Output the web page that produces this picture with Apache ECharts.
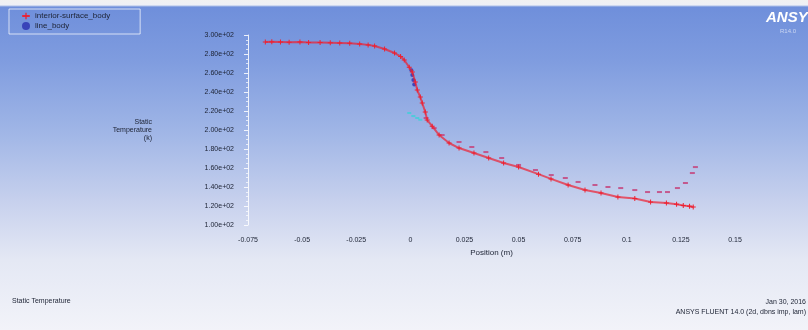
<!DOCTYPE html>
<html>
<head>
<meta charset="utf-8">
<script src="https://cdn.jsdelivr.net/npm/echarts@6/dist/echarts.min.js"></script>
<style>
html,body{margin:0;padding:0;}
#chart{
	width:808px;height:330px;
	background:linear-gradient(to bottom,#f1f1f1 0px,#eef0f6 5px,#6f8fdb 7px,#7f9cdf 60px,#9fb5e6 130px,#c6d0ed 200px,#e4e8f4 260px,#f2f3f9 330px);
}
</style>
</head>
<body>
<div id="chart"></div>
<script>
// tick values
var xTicks = [-0.075, -0.05, -0.025, 0, 0.025, 0.05, 0.075, 0.1, 0.125, 0.15];
var yTicks = [100, 120, 140, 160, 180, 200, 220, 240, 260, 280, 300];

// main (lower) branch, red markers  [position (m), temperature (k)]
var mainX = [-0.067,-0.064,-0.060,-0.056,-0.051,-0.047,-0.0417,-0.037,-0.0326,-0.028,-0.0234,-0.0195,-0.0165,-0.0119,-0.0073,-0.0045,-0.0028,-0.0005,0.0009,0.0023,0.0032,0.0046,0.0055,0.0069,0.0078,0.0101,0.0133,0.0179,0.0225,0.0294,0.0362,0.0431,0.050,0.0592,0.0650,0.0729,0.0807,0.0881,0.0959,0.1037,0.111,0.1183,0.1230,0.1261,0.1290,0.1307];
var mainT = [292.6,292.8,292.6,292.4,292.6,292.2,292.1,291.9,291.6,291.2,290.5,289.6,288.4,285.3,281,277.5,273.7,266,261,250.5,242,234.7,228.4,219,210.5,204,194.7,186.3,181,175.8,170.5,165.3,161,153.5,148.5,142.1,136.8,133.7,129.5,127.8,124.2,123.2,121.8,120.6,119.8,119];

// upper branch, pink dashes
var upperX = [0.0073,0.011,0.0147,0.0225,0.0284,0.0349,0.0422,0.050,0.0578,0.0651,0.0716,0.0775,0.0853,0.0913,0.0972,0.1037,0.1096,0.1151,0.1188,0.1234,0.1271,0.1303,0.1317];
var upperT = [212.6,202,194.7,187.4,182.1,176.8,170.5,163.2,157.9,152.6,149.5,145.3,142.1,140,138.9,136.8,134.7,134.7,134.7,138.9,144.2,154.7,161];

// small cyan and blue groups near x = 0
var cyanX = [-0.0005,0.0014,0.0032,0.0046];
var cyanT = [217.9,214.7,212.6,210.8];
var blueX = [0.0005,0.0009,0.0014,0.0018];
var blueT = [263,258,252.6,248];

function zip(a,b){
	var out=[];
	for(var i=0;i<a.length;i++){out.push([a[i],b[i]]);}
	return out;
}
function sci(v){
	var e=Math.floor(Math.log10(v));
	var m=(v/Math.pow(10,e)).toFixed(2);
	var es=(e<0?'-':'+')+(Math.abs(e)<10?'0':'')+Math.abs(e);
	return m+'e'+es;
}

var plus='path://M4,0h2v4h4v2h-4v4h-2v-4h-4v-2h4z';
var font='"Liberation Sans", Arial, sans-serif';
var txt='#1c2233';

var myChart = echarts.init(document.getElementById('chart'));
var option = {
	backgroundColor:'transparent',
	animation:false,
	textStyle:{fontFamily:font},
	grid:{left:248,right:73,top:35,bottom:105},
	legend:{
		left:9,top:9,orient:'vertical',
		data:['interior-surface_body','line_body'],
		itemWidth:8,itemHeight:8,itemGap:2,
		padding:[3,30,4,12],
		borderColor:'rgba(255,255,255,0.7)',borderWidth:1,
		textStyle:{color:txt,fontSize:8,fontFamily:font}
	},
	xAxis:{
		type:'value',
		min:xTicks[0],max:xTicks[xTicks.length-1],interval:0.025,
		name:'Position (m)',nameLocation:'middle',nameGap:21,
		nameTextStyle:{color:txt,fontSize:8},
		axisLine:{show:false,onZero:false},
		axisTick:{show:false},
		splitLine:{show:false},
		axisLabel:{color:txt,fontSize:7,margin:12,formatter:function(v){return String(parseFloat(v.toFixed(3)));}}
	},
	yAxis:{
		type:'value',
		min:yTicks[0],max:yTicks[yTicks.length-1],interval:20,
		name:'Static\nTemperature\n(k)',nameLocation:'middle',nameGap:96,nameRotate:0,
		nameTextStyle:{color:txt,fontSize:7,align:'right',lineHeight:8},
		axisLine:{show:true,onZero:false,lineStyle:{color:'rgba(255,255,255,0.85)',width:1}},
		axisTick:{show:true,length:4,lineStyle:{color:'rgba(255,255,255,0.85)'}},
		minorTick:{show:true,splitNumber:4,length:2,lineStyle:{color:'rgba(255,255,255,0.7)'}},
		splitLine:{show:false},
		axisLabel:{color:txt,fontSize:7,margin:14,formatter:function(v){return sci(v);}}
	},
	series:[
		{
			name:'upper',type:'scatter',data:zip(upperX,upperT),
			symbol:'rect',symbolSize:[5,2],
			itemStyle:{color:'#c4457e',opacity:0.85}
		},
		{
			name:'interior-surface_body',type:'line',data:zip(mainX,mainT),
			symbol:plus,symbolSize:5,showSymbol:true,
			lineStyle:{color:'#ee2030',width:2,opacity:0.7},
			itemStyle:{color:'#ee2030'}
		},
		{
			name:'line_body',type:'scatter',data:zip(blueX,blueT),
			symbol:'circle',symbolSize:4,
			itemStyle:{color:'#2a2fb0'}
		},
		{
			name:'cyan',type:'scatter',data:zip(cyanX,cyanT),
			symbol:'rect',symbolSize:[4,2],
			itemStyle:{color:'#3fd0d8'}
		}
	],
	graphic:[
		{type:'text',left:766,top:10,style:{text:'ANSYS',fill:'#ffffff',font:'italic bold 15px "Liberation Sans", Arial'}},
		{type:'text',left:780,top:28,style:{text:'R14.0',fill:'rgba(255,255,255,0.6)',font:'6px "Liberation Sans", Arial'}},
		{type:'text',left:12,top:298,style:{text:'Static Temperature',fill:txt,font:'7px "Liberation Sans", Arial'}},
		{type:'text',right:2,top:299,style:{text:'Jan 30, 2016',fill:txt,font:'7px "Liberation Sans", Arial',align:'right'}},
		{type:'text',right:2,top:309,style:{text:'ANSYS FLUENT 14.0 (2d, dbns imp, lam)',fill:txt,font:'7px "Liberation Sans", Arial',align:'right'}}
	]
};
myChart.setOption(option);
</script>
</body>
</html>
